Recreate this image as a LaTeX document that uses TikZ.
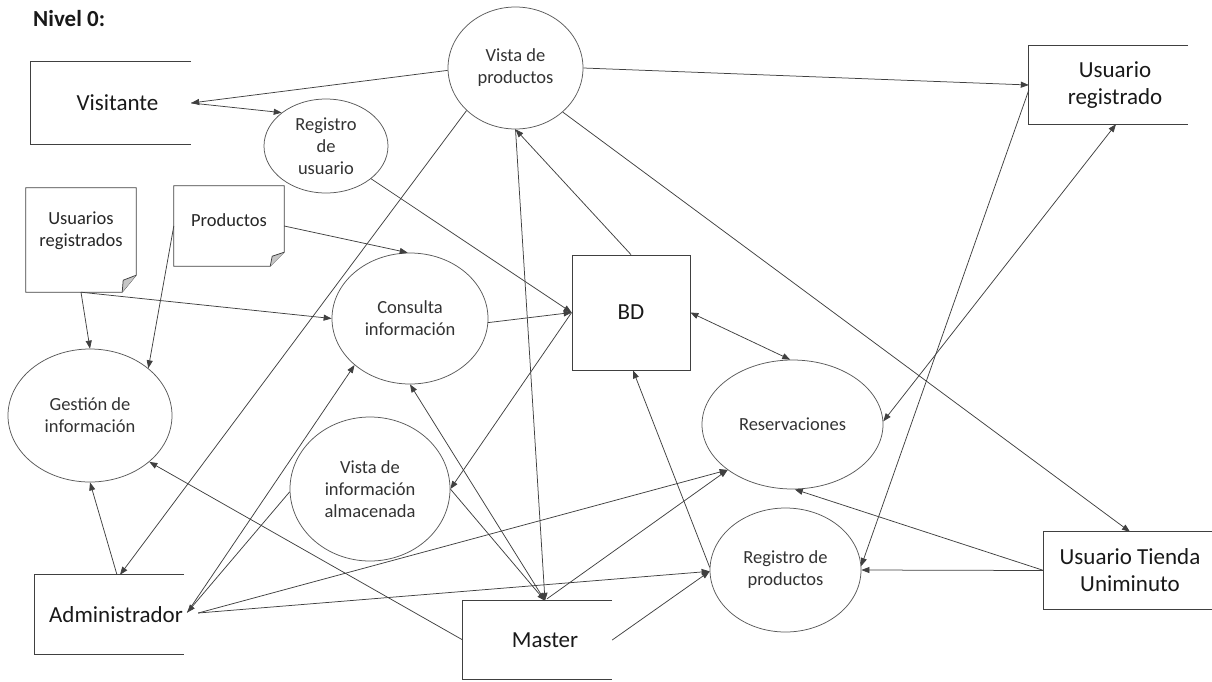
\documentclass[tikz,border=0pt]{standalone}
\usepackage{fontspec}
\setmainfont{Carlito}
\usetikzlibrary{arrows.meta,shapes.geometric,calc}

\tikzset{
  ln/.style={draw=black!75, line width=0.75pt},
  flow/.style={ln, -{Triangle[length=8pt,width=6pt]}},
  bflow/.style={ln, {Triangle[length=8pt,width=6pt]}-{Triangle[length=8pt,width=6pt]}},
  proc/.style={ellipse, draw=black!65, line width=0.75pt, inner sep=0pt, align=center,
    font=\fontsize{18.5}{22}\selectfont, text=black!80},
  entity/.style={rectangle, draw=none, inner sep=0pt},
  etext/.style={align=center, inner sep=0pt, font=\fontsize{23}{27}\selectfont, text=black!90},
  store/.style={rectangle, draw=none, inner sep=0pt},
  doctext/.style={align=center, inner sep=0pt, font=\fontsize{18.5}{22}\selectfont, text=black!85},
}

% external entity drawn as a box left open on its right side
\newcommand\openframe[1]{\draw[ln] (#1.north east) -- (#1.north west) -- (#1.south west) -- (#1.south east);}

\begin{document}
\begin{tikzpicture}[x=1pt,y=-1pt]
\useasboundingbox (0,0) rectangle (1212,681);

\node[anchor=west, inner sep=0pt, font=\bfseries\fontsize{23}{27}\selectfont, text=black!90] (title) at (33,19) {Nivel 0:};

% processes
\node[proc, minimum width=135pt, minimum height=122pt] (vprod) at (515.5,68) {Vista de\\productos};
\node[proc, minimum width=124pt, minimum height=94pt] (regu) at (326,146) {Registro\\de\\usuario};
\node[proc, minimum width=156pt, minimum height=131pt] (cons) at (410,318.5) {Consulta\\información};
\node[proc, minimum width=164pt, minimum height=133pt] (ges) at (90,415.5) {Gestión de\\información};
\node[proc, minimum width=160pt, minimum height=144pt] (vinf) at (370,489) {Vista de\\información\\almacenada};
\node[proc, minimum width=181pt, minimum height=129pt] (res) at (792.5,424.5) {Reservaciones};
\node[proc, minimum width=151pt, minimum height=124pt] (rprod) at (785.5,570) {Registro de\\productos};

% external entities
\node[entity, minimum width=160pt, minimum height=82pt, label={[etext,xshift=6.5pt]center:Visitante}] (vis) at (111,103) {};
\node[entity, minimum width=159pt, minimum height=78pt, label={[etext,xshift=6.5pt]center:Usuario\\registrado}] (ureg) at (1108.5,85) {};
\node[entity, minimum width=149pt, minimum height=79pt, label={[etext,xshift=6.5pt]center:Administrador}] (adm) at (109.5,614.5) {};
\node[entity, minimum width=149pt, minimum height=78pt, label={[etext,xshift=7.5pt]center:Master}] (mas) at (537.5,640) {};
\node[entity, minimum width=168pt, minimum height=77pt, label={[etext,xshift=2pt]center:Usuario Tienda\\Uniminuto}] (ut) at (1128,570.5) {};
\openframe{vis}
\openframe{ureg}
\openframe{adm}
\openframe{mas}
\openframe{ut}

% data base
\node[rectangle, ln, inner sep=0pt, minimum width=118pt, minimum height=115pt,
  font=\fontsize{23}{27}\selectfont, text=black!90] (bd) at (631,312.5) {BD};

% documents with a folded corner
\node[store, minimum width=110pt, minimum height=104pt, label={[doctext,yshift=9pt]center:Usuarios\\registrados}] (udoc) at (81,240) {};
\node[store, minimum width=110pt, minimum height=80pt, label={[doctext,yshift=6pt]center:Productos}] (pdoc) at (229,226) {};
\draw[ln] (udoc.north west) -- (udoc.north east) -- ([yshift=17pt]udoc.south east)
  -- ([xshift=-14pt]udoc.south east) -- (udoc.south west) -- cycle;
\draw[ln, fill=gray!45] ([yshift=17pt]udoc.south east) -- ([xshift=-13pt,yshift=12pt]udoc.south east)
  -- ([xshift=-14pt]udoc.south east);
\draw[ln] (pdoc.north west) -- (pdoc.north east) -- ([yshift=14pt]pdoc.south east)
  -- ([xshift=-14pt]pdoc.south east) -- (pdoc.south west) -- cycle;
\draw[ln, fill=gray!45] ([yshift=14pt]pdoc.south east) -- ([xshift=-12pt,yshift=10pt]pdoc.south east)
  -- ([xshift=-14pt]pdoc.south east);

% data flows
\draw[flow] (vprod.182) -- (vis.east);
\draw[flow] (vis.east) -- (regu.143);
\draw[flow] (regu.-36) -- (bd.west);
\draw[flow] (pdoc.east) -- (cons.92);
\draw[flow] (udoc.south) -- (cons.west);
\draw[flow] (udoc.south) -- (ges.north);
\draw[flow] (pdoc.west) -- (ges.39);
\draw[flow] ([xshift=7.5pt]adm.north) -- (ges.south);
\draw[flow] (vprod.221) -- ([xshift=10.5pt]adm.north);
\draw[flow] (cons.-3) -- (bd.west);
\draw[flow] (bd.west) -- (vinf.east);
\draw[flow] (bd.north) -- (vprod.south);
\draw[flow] (vprod.south) -- ([xshift=7.5pt]mas.north);
\draw[flow] ([xshift=7.5pt]mas.north) -- (cons.south);
\draw[flow] (vinf.east) -- ([xshift=7.5pt]mas.north);
\draw[flow] ([xshift=3pt,yshift=2pt]adm.east) -- (cons.220);
\draw[flow] (vinf.182) -- ([xshift=3pt,yshift=2pt]adm.east);
\draw[flow] ([xshift=14pt,yshift=1.5pt]adm.east) -- (res.215);
\draw[flow] ([xshift=14pt,yshift=1.5pt]adm.east) -- (rprod.181);
\draw[flow] ([xshift=9.5pt,yshift=2pt]mas.north) -- (res.215);
\draw[flow] (mas.east) -- (rprod.181);
\draw[flow] (mas.west) -- (ges.-38);
\draw[flow] (rprod.178) -- ([xshift=2pt]bd.south);
\draw[bflow] (bd.east) -- (res.92);
\draw[flow] (ut.west) -- (res.-88);
\draw[flow] (ut.west) -- (rprod.east);
\draw[flow] (vprod.-43) -- ([xshift=2pt]ut.north);
\draw[flow] (vprod.east) -- (ureg.west);
\draw[flow] ([yshift=-5pt]ureg.west) -- (rprod.3);
\draw[bflow] ([xshift=7.5pt]ureg.south) -- (res.2);
\end{tikzpicture}
\end{document}
